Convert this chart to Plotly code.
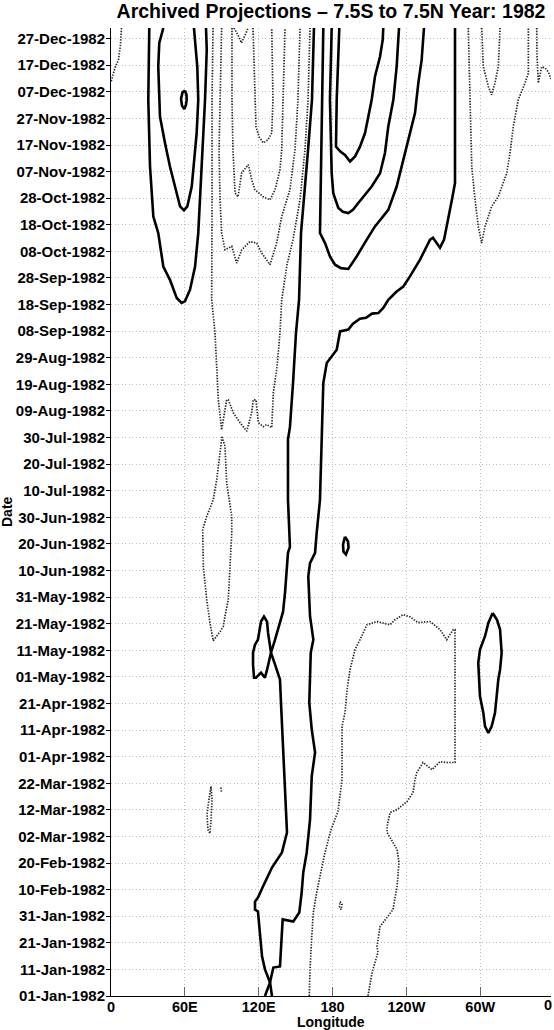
import pandas as pd
import plotly.graph_objects as go

BASE = pd.Timestamp("1982-01-01")

# ---- axis ticks ----
XTICK_VALS = [0, 60, 120, 180, 240, 300, 357.5]
XTICK_TEXT = ["0", "60E", "120E", "180", "120W", "60W", ""]
X_LAST_LABEL = "0"
Y_RANGE_DAYS = [0, 364]

# ---- positive (solid) contours: longitude (deg E) and day of year offset ----
S1_LON = [31.1, 30.3, 31.7, 34.4, 38.4, 41.2, 42.5, 47.9, 53.4, 57.4, 60.1, 64.2, 68.3, 70.9, 73.7, 76.4, 77.8, 77.2]
S1_DAY = [364, 337.0, 311.9, 293.1, 286.9, 279.4, 274.3, 269.3, 262.5, 260.6, 261.2, 265.6, 274.3, 286.9, 311.9, 337.0, 355.8, 364]

S2_LON = [42.5, 39.2, 38.4, 39.8, 43.9, 47.9, 52.0, 56.1, 59.3, 62.0, 65.6, 69.6, 70.9, 70.1, 67.4]
S2_DAY = [364, 358.3, 349.5, 330.7, 320.7, 311.9, 304.4, 296.9, 295.4, 296.9, 304.4, 324.5, 337.0, 349.5, 364]

S3_LON = [60.1, 61.3, 61.5, 60.9, 59.6, 57.7, 56.9, 58.1, 60.1]
S3_DAY = [340.5, 338.9, 337.0, 335.1, 333.5, 334.8, 337.4, 339.8, 340.5]

P2_LON = [164.9, 163.3, 160.1, 156.8, 154.4, 152.8, 150.3, 147.9, 145.4, 143.8, 143.8, 145.4, 143.8, 141.4, 139.8,
          133.3, 130.0, 126.8, 125.1, 121.9, 117.8, 116.2, 115.4, 115.4, 117.0, 119.4, 121.1, 121.9, 124.3, 126.8,
          127.6, 129.2, 130.0, 133.3, 137.3, 138.1, 139.8, 141.4, 143.0, 138.9, 133.3, 130.8, 123.5, 119.4, 117.0,
          117.0, 119.4, 121.1, 122.7, 125.1, 129.2, 130.8]
P2_DAY = [364, 337.0, 318.2, 299.4, 287.0, 261.8, 249.3, 230.5, 214.0, 209.2, 186.6, 168.9, 166.7, 151.7, 144.5,
          134.0, 129.1, 122.7, 119.7, 121.6, 119.7, 119.7, 124.6, 129.1, 132.1, 134.0, 137.8, 140.8, 142.7, 140.8,
          136.6, 132.1, 129.1, 124.6, 119.0, 110.4, 91.6, 76.5, 61.5, 54.0, 50.2, 48.3, 41.2, 37.0, 35.5,
          32.5, 31.8, 23.9, 14.9, 10.0, 5.1, 0]

P1_LON = [279.5, 279.5, 279.5, 277.0, 273.0, 270.6, 267.3, 264.1, 261.6, 259.2, 251.1, 242.9, 237.5, 232.1, 225.3,
          221.2, 217.2, 212.1, 207.2, 202.3, 196.6, 192.8, 186.1, 183.4, 175.3, 172.5, 171.2, 169.8, 167.1, 165.8,
          161.7, 160.3, 161.7, 164.4, 162.3, 161.1, 163.1, 165.8, 163.1, 161.7, 159.0, 156.2, 154.9, 153.0, 148.1,
          139.5, 138.7, 137.3, 131.9, 129.2, 125.1]
P1_DAY = [364, 337.0, 305.7, 299.4, 289.6, 284.4, 281.4, 283.7, 285.1, 284.4, 276.9, 270.6, 266.8, 264.9, 261.8,
          258.7, 256.8, 256.6, 255.0, 254.7, 252.8, 250.6, 249.9, 243.0, 238.0, 230.5, 211.7, 186.6, 174.1, 166.6,
          162.8, 157.8, 142.8, 134.0, 129.1, 110.3, 100.2, 91.6, 82.6, 66.3, 53.9, 46.4, 38.9, 31.4, 28.0,
          28.8, 22.5, 11.1, 10.7, 5.1, 0]

U1_LON = [185.5, 183.4, 182.8, 186.1, 190.1, 194.2, 198.3, 202.3, 206.4, 209.1, 211.8, 214.5, 218.6, 220.8, 221.2]
U1_DAY = [364, 337.0, 319.4, 317.6, 316.3, 313.8, 315.7, 319.4, 324.5, 330.7, 337.0, 345.8, 353.3, 359.6, 364]

U2_LON = [179.3, 177.9, 179.3, 180.6, 184.7, 188.5, 192.8, 196.6, 200.9, 211.8, 218.6, 222.6, 225.3, 229.4, 232.1, 234.0]
U2_DAY = [364, 337.0, 309.4, 301.9, 296.3, 294.9, 294.4, 295.6, 298.2, 304.4, 309.4, 317.0, 327.0, 337.0, 349.5, 364]

U3_LON = [172.5, 171.2, 169.8, 173.9, 177.9, 182.0, 186.9, 192.8, 199.6, 207.8, 214.5, 225.3, 232.1, 237.5, 241.6,
          247.0, 249.7, 252.4, 254.3]
U3_DAY = [364, 324.5, 286.9, 283.1, 278.1, 275.0, 273.7, 273.4, 278.1, 284.4, 289.4, 295.6, 304.4, 314.4, 322.0,
          332.0, 343.3, 352.0, 364]

S4_LON = [190.1, 192.6, 193.0, 190.9, 188.9, 188.5, 190.1]
S4_DAY = [172.7, 170.9, 168.6, 166.0, 167.1, 169.7, 172.7]

S5_LON = [310.1, 313.6, 316.1, 317.4, 316.1, 314.7, 312.0, 309.3, 306.6, 303.9, 302.5, 299.8, 298.4, 299.8, 303.9, 306.6, 310.1]
S5_DAY = [144.0, 141.5, 137.8, 129.0, 122.7, 119.0, 106.5, 101.4, 98.9, 101.4, 106.5, 112.7, 125.3, 130.3, 135.3, 140.3, 144.0]

# ---- negative (dotted) contours ----
D1_LON = [8.5, 7.7, 6.1, 3.3, 0.0]
D1_DAY = [364, 357.7, 352.1, 349.1, 343.7]

D2_LON = [345.9, 346.1, 347.2, 349.9, 352.6, 355.3, 357.5]
D2_DAY = [364, 353.9, 343.3, 349.4, 349.0, 347.5, 344.8]

DV1_LON = [290.3, 291.7, 293.1, 295.8, 298.4, 301.2, 303.9, 309.3, 314.7, 321.5, 324.2, 326.9, 330.9, 336.4, 339.1, 339.1]
DV1_DAY = [364, 337.0, 311.9, 299.4, 289.4, 283.1, 289.4, 296.9, 300.6, 309.4, 317.0, 327.0, 337.0, 343.3, 347.0, 364]

DV2_LON = [301.2, 302.5, 306.6, 309.3, 312.0, 314.7, 316.1]
DV2_DAY = [364, 349.5, 342.0, 338.9, 343.3, 349.5, 364]

DU1_LON = [115.4, 116.2, 117.0, 117.8, 120.3, 123.7, 127.6, 130.6, 131.6, 130.8, 130.6]
DU1_DAY = [364, 352.1, 337.0, 326.8, 323.1, 320.8, 322.0, 324.6, 337.0, 352.1, 364]

DU2_LON = [98.3, 98.3, 99.1, 100.8, 103.2, 106.2, 111.6, 114.3, 117.0, 123.7, 129.2, 133.3, 137.3, 138.7, 139.8, 141.4]
DU2_DAY = [364, 337.0, 318.2, 302.0, 300.5, 309.6, 312.6, 306.9, 303.2, 300.5, 299.4, 303.2, 310.7, 318.2, 337.0, 364]

DV3_LON = [99.9, 103.2, 106.0, 108.1, 110.5, 111.3]
DV3_DAY = [364, 361.4, 358.4, 360.3, 362.9, 364]

DU3_LON = [89.9, 88.6, 87.8, 88.6, 89.9, 92.6, 98.1, 102.1, 106.2, 112.9, 118.4, 122.4, 129.2, 134.6, 138.7, 145.4,
           149.5, 151.9, 153.6]
DU3_DAY = [364, 337.0, 318.2, 299.4, 286.9, 280.6, 281.9, 275.6, 280.6, 283.7, 283.1, 279.4, 275.0, 283.1, 293.1, 303.2,
           318.2, 337.0, 364]

DU4_LON = [82.9, 82.1, 82.1, 81.8, 84.5, 85.9, 87.2, 89.9, 94.0, 95.3, 99.4, 104.8, 110.3, 114.3, 115.6, 117.8,
           119.7, 123.7, 126.5, 130.6, 131.9, 134.9, 137.3, 138.7, 139.8, 143.0, 147.9, 153.6, 157.6, 160.1, 161.7]
DU4_DAY = [364, 337.0, 299.4, 261.8, 249.4, 236.6, 224.2, 212.9, 224.2, 224.2, 219.3, 215.6, 212.4, 219.3, 224.2, 224.2,
           215.6, 214.1, 214.9, 213.7, 226.9, 236.6, 249.4, 261.8, 265.6, 275.0, 284.4, 299.4, 318.2, 337.0, 364]

DL_LON = [90.2, 92.6, 94.0, 98.1, 98.1, 96.7, 95.3, 92.6, 91.2, 88.6, 85.3, 83.1, 80.4, 77.8, 75.0, 74.5, 77.8, 83.1,
          85.9, 88.6, 90.2]
DL_DAY = [210.3, 206.7, 192.9, 180.4, 174.1, 161.6, 149.0, 142.8, 138.9, 137.0, 134.8, 133.6, 140.3, 149.0, 161.6,
          175.4, 180.4, 186.6, 194.2, 205.4, 210.3]

DS_LON = [81.3, 82.1, 81.3, 80.4, 78.8, 78.0, 79.6, 81.3]
DS_DAY = [78.8, 73.9, 66.3, 61.1, 62.6, 68.3, 73.9, 78.8]

DT1_LON = [89.4, 89.8]
DT1_DAY = [78.4, 76.5]

DT2_LON = [186.1, 187.7, 186.9, 185.6, 186.1]
DT2_DAY = [35.5, 34.4, 32.5, 33.6, 35.5]

DP_LON = [161.1, 161.7, 163.1, 164.4, 167.1, 171.2, 173.9, 178.8, 184.4, 187.7, 187.7, 187.7, 190.1, 191.8, 194.2,
          198.3, 202.3, 208.0, 216.1, 226.7, 230.8, 237.3, 242.9, 249.4, 259.2, 267.3, 272.8, 278.1, 279.5, 279.5,
          279.5, 273.0, 267.3, 260.8, 253.5, 248.6, 247.0, 245.4, 240.5, 232.4, 226.7, 224.3, 224.3, 232.4, 234.0,
          232.4, 229.1, 218.6, 216.1, 216.9, 212.1, 208.8]
DP_DAY = [0, 10.0, 22.4, 31.4, 38.9, 47.6, 54.0, 62.6, 69.4, 81.4, 93.8, 101.3, 106.6, 115.2, 122.7,
          130.3, 134.0, 139.6, 140.8, 139.6, 141.5, 143.4, 142.6, 140.4, 140.8, 137.8, 134.0, 137.8, 137.8, 111.5,
          87.8, 87.8, 88.1, 85.1, 87.8, 84.1, 81.4, 76.5, 73.1, 70.1, 69.0, 63.7, 61.5, 55.1, 50.2,
          41.2, 32.5, 26.1, 18.6, 16.4, 8.8, 0]

POSITIVE = [(S1_LON, S1_DAY), (S2_LON, S2_DAY), (S3_LON, S3_DAY), (P2_LON, P2_DAY), (P1_LON, P1_DAY),
            (U1_LON, U1_DAY), (U2_LON, U2_DAY), (U3_LON, U3_DAY), (S4_LON, S4_DAY), (S5_LON, S5_DAY)]
NEGATIVE = [(D1_LON, D1_DAY), (D2_LON, D2_DAY), (DV1_LON, DV1_DAY), (DV2_LON, DV2_DAY), (DU1_LON, DU1_DAY),
            (DU2_LON, DU2_DAY), (DV3_LON, DV3_DAY), (DU3_LON, DU3_DAY), (DU4_LON, DU4_DAY), (DL_LON, DL_DAY),
            (DS_LON, DS_DAY), (DT1_LON, DT1_DAY), (DT2_LON, DT2_DAY), (DP_LON, DP_DAY)]


def to_dates(days):
    return [BASE + pd.Timedelta(days=d) for d in days]


fig = go.Figure()
for lon, day in NEGATIVE:
    fig.add_trace(go.Scatter(x=lon, y=to_dates(day), mode="lines",
                             line=dict(color="#262626", width=1.7, dash="1.4px,1.4px"),
                             hoverinfo="skip", showlegend=False))
for lon, day in POSITIVE:
    fig.add_trace(go.Scatter(x=lon, y=to_dates(day), mode="lines",
                             line=dict(color="black", width=2.6),
                             hoverinfo="skip", showlegend=False))

FAMILY = "Liberation Sans, Arial, Helvetica, sans-serif"
tickfont = dict(family=FAMILY, size=15, color="black", weight="bold")
xtickfont = dict(family=FAMILY, size=14.5, color="black", weight="bold")

fig.update_layout(
    width=554, height=1030,
    margin=dict(l=111, r=3, t=28, b=34, autoexpand=False),
    paper_bgcolor="white", plot_bgcolor="white",
    showlegend=False,
    title=dict(text="Archived Projections – 7.5S to 7.5N Year: 1982",
               x=0.5, xref="paper", xanchor="center",
               y=1 - 11 / 1030, yref="container", yanchor="middle",
               font=dict(family=FAMILY, size=19.5, color="black", weight="bold")),
    xaxis=dict(range=[0, 357.5], tickmode="array", tickvals=XTICK_VALS, ticktext=XTICK_TEXT,
               ticks="inside", ticklen=9, tickcolor="#666666", tickwidth=1,
               ticklabelstandoff=-2,
               showline=True, linecolor="black", linewidth=1, mirror=False,
               showgrid=True, gridcolor="#bdbdbd", griddash="1px,2.5px", gridwidth=1,
               zeroline=False, tickfont=xtickfont, automargin=False),
    yaxis=dict(type="date",
               range=[BASE + pd.Timedelta(days=Y_RANGE_DAYS[0]), BASE + pd.Timedelta(days=Y_RANGE_DAYS[1])],
               tick0=BASE, dtick=10 * 86400000, tickformat="%d-%b-%Y",
               ticks="outside", ticklen=4, tickcolor="black", tickwidth=1,
               ticklabelstandoff=-2,
               showline=True, linecolor="black", linewidth=1, mirror=False,
               showgrid=True, gridcolor="#bdbdbd", griddash="1px,2.5px", gridwidth=1,
               zeroline=False, tickfont=tickfont, automargin=False),
    annotations=[
        dict(text=X_LAST_LABEL, xref="x", yref="paper", x=XTICK_VALS[-1], y=-(1005.5 - 996.5) / 968,
             xanchor="center", yanchor="middle", xshift=-3, showarrow=False, font=xtickfont),
        dict(text="Longitude", xref="paper", yref="paper", x=0.5, y=-(1022 - 996.5) / 968,
             xanchor="center", yanchor="middle", showarrow=False,
             font=dict(family=FAMILY, size=14, color="black", weight="bold")),
        dict(text="Date", xref="paper", yref="paper", x=(7 - 111) / 440, y=0.5,
             xanchor="center", yanchor="middle", showarrow=False, textangle=-90,
             font=dict(family=FAMILY, size=14, color="black", weight="bold")),
    ],
)

fig.write_html("out.html", config={"displayModeBar": False},
               post_script="document.body.style.margin='0px';document.body.style.padding='0px';")
